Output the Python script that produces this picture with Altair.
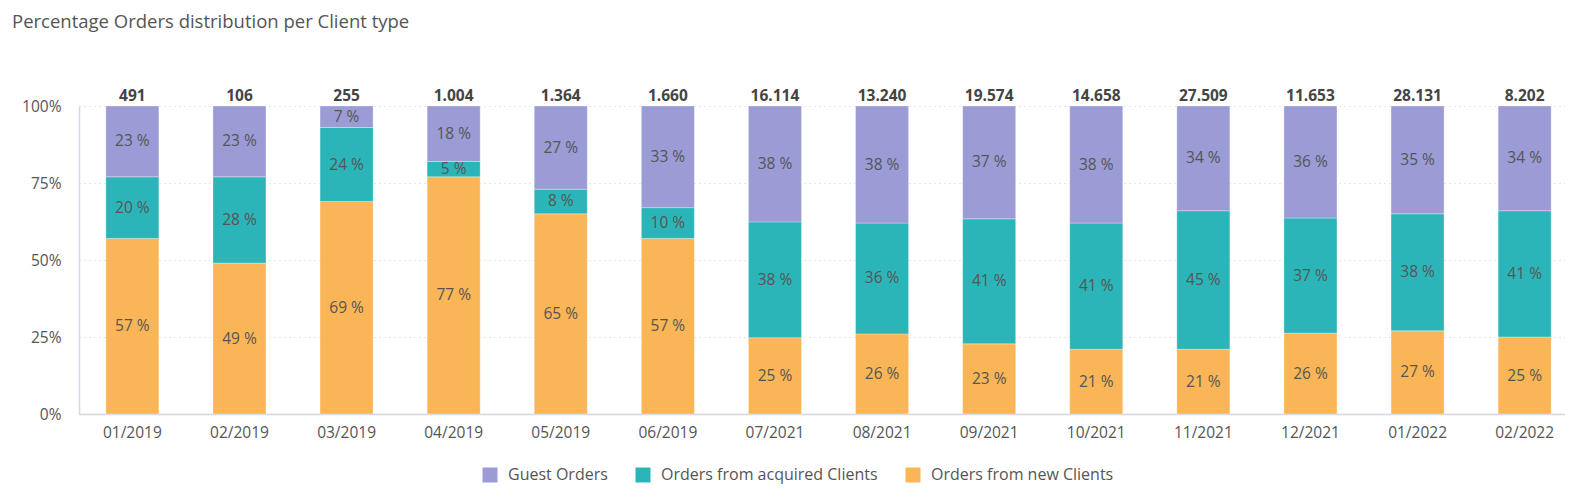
import altair as alt
import pandas as pd

months = ["01/2019", "02/2019", "03/2019", "04/2019", "05/2019", "06/2019", "07/2021",
          "08/2021", "09/2021", "10/2021", "11/2021", "12/2021", "01/2022", "02/2022"]
totals = [491, 106, 255, 1004, 1364, 1660, 16114, 13240, 19574, 14658, 27509, 11653, 28131, 8202]
new_clients = [57, 49, 69, 77, 65, 57, 25, 26, 23, 21, 21, 26, 27, 25]
acquired_clients = [20, 28, 24, 5, 8, 10, 38, 36, 41, 41, 45, 37, 38, 41]
guest_orders = [23, 23, 7, 18, 27, 33, 38, 38, 37, 38, 34, 36, 35, 34]

series = ["Guest Orders", "Orders from acquired Clients", "Orders from new Clients"]
colors = ["#9B9BD6", "#2CB5B8", "#F9B556"]

rows = []
for i, m in enumerate(months):
    for name, vals, ordv in [("Orders from new Clients", new_clients, 0),
                             ("Orders from acquired Clients", acquired_clients, 1),
                             ("Guest Orders", guest_orders, 2)]:
        rows.append({"month": m, "series": name, "pct": vals[i], "ord": ordv,
                     "label": f"{vals[i]} %"})
df = pd.DataFrame(rows)

tot_df = pd.DataFrame({"month": months,
                       "label": [f"{t:,}".replace(",", ".") for t in totals],
                       "one": [1.0] * len(months)})

FONT = "Open Sans"
FS = 15.5

x_enc = alt.X("month:N", sort=months, title=None,
              scale=alt.Scale(paddingInner=0.505, paddingOuter=0.19, align=0.66),
              axis=alt.Axis(labelAngle=0, ticks=False, labelPadding=11, labelFontSize=FS,
                            labelColor="#555", labelFont=FONT, domainColor="#d5d5e0",
                            domainWidth=1.5, grid=False))

base = alt.Chart(df).transform_stack(
    stack="pct", groupby=["month"], sort=[alt.SortField("ord", order="ascending")],
    as_=["y0", "y1"], offset="normalize"
).transform_calculate(mid="(datum.y0 + datum.y1) / 2")

bars = base.mark_bar(stroke="white", strokeWidth=0.5, strokeOpacity=0.6).encode(
    x=x_enc,
    y=alt.Y("y0:Q", title=None,
            scale=alt.Scale(domain=[0, 1], nice=False),
            axis=alt.Axis(values=[0, 0.25, 0.5, 0.75, 1], format=".0%", ticks=False,
                          labelPadding=18, labelFontSize=FS, labelColor="#555",
                          labelFont=FONT, domainColor="#d8d8e8", domainWidth=1.5,
                          gridColor="#cfcfcf", gridDash=[1, 4], gridWidth=1)),
    y2="y1:Q",
    color=alt.Color("series:N", scale=alt.Scale(domain=series, range=colors),
                    legend=alt.Legend(title=None, orient="none", direction="horizontal",
                                      legendX=403, legendY=361, symbolType="square",
                                      symbolSize=225, symbolStrokeWidth=0,
                                      labelFontSize=16, labelColor="#555", labelFont=FONT,
                                      labelOffset=10, columnPadding=27, labelLimit=400)),
)

seg_text = base.mark_text(fontSize=FS, color="#555", font=FONT).encode(
    x=alt.X("month:N", sort=months),
    y=alt.Y("mid:Q"),
    text="label:N",
)

tot_text = alt.Chart(tot_df).mark_text(fontSize=FS, fontWeight="bold", color="#444",
                                       font=FONT, baseline="alphabetic", dy=-5).encode(
    x=alt.X("month:N", sort=months),
    y=alt.Y("one:Q"),
    text="label:N",
)

chart = alt.layer(bars, seg_text, tot_text).properties(
    width=1486, height=308,
    autosize=alt.AutoSizeParams(type="none"),
    padding={"left": 71, "top": 98, "right": 0, "bottom": 71},
    title=alt.TitleParams("Percentage Orders distribution per Client type",
                          anchor="start", frame="group", dx=-67, fontSize=18.5,
                          fontWeight="normal", color="#555", font=FONT, offset=58),
).configure_view(stroke=None)

chart.save("out.html", embed_options={"renderer": "svg", "actions": False})
